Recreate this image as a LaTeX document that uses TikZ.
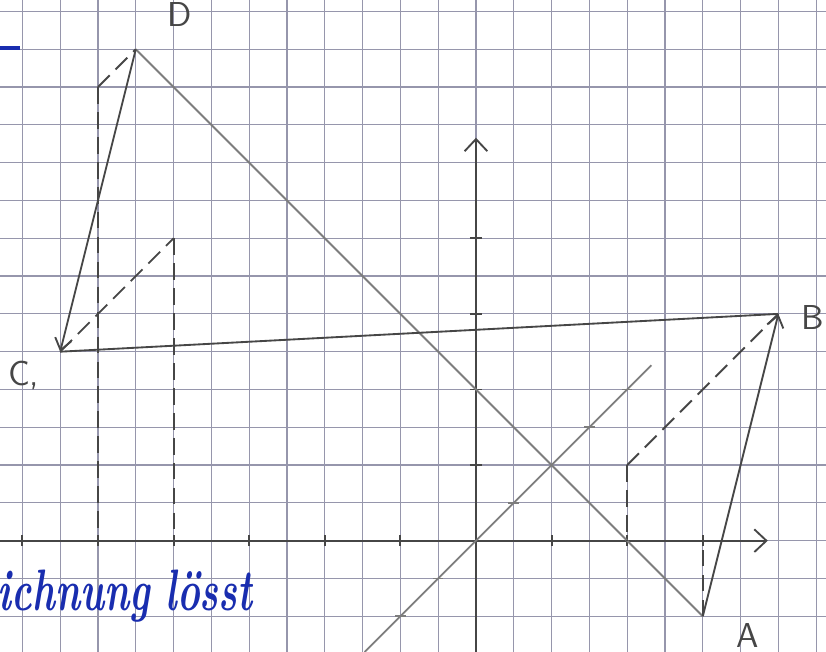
\documentclass[tikz,border=0pt]{standalone}
\usetikzlibrary{arrows.meta}
\definecolor{gridc}{RGB}{150,150,172}
\definecolor{pencil}{RGB}{70,70,70}
\definecolor{pencillight}{RGB}{125,125,125}
\definecolor{ink}{RGB}{25,45,175}
\begin{document}
\begin{tikzpicture}[x=1cm,y=1cm,
  gridline/.style={draw=gridc,line width=0.45pt},
  pen/.style={draw=pencil,line width=0.7pt},
  penlight/.style={draw=pencillight,line width=0.7pt},
  helper/.style={draw=pencil,line width=0.7pt,dash pattern=on 0.22cm off 0.11cm},
  tip/.style={-{Straight Barb[length=1.5mm,width=2.2mm]}},
  axistip/.style={-{Straight Barb[length=1.6mm,width=3mm]}},
  lbl/.style={font=\sffamily\fontsize{13}{13}\selectfont, text=pencil},
  tick/.style={draw=pencil,line width=0.7pt}]
\useasboundingbox (-6.296,-1.472) rectangle (4.630,7.152);
\fill[white] (-6.296,-1.472) rectangle (4.630,7.152);
% grid (half-unit squares)
\foreach \i in {-12,...,9} \draw[gridline] (\i*0.5,-1.472) -- (\i*0.5,7.152);
\foreach \j in {-2,...,14} \draw[gridline] (-6.296,\j*0.5) -- (4.630,\j*0.5);
% axes
\coordinate (xs) at (-6.296,0);
\coordinate (xe) at (3.86,0);
\coordinate (ys) at (0,-1.472);
\coordinate (ye) at (0,5.33);
\draw[pen,axistip] (xs) -- (xe);
\draw[pen,axistip] (ys) -- (ye);
\foreach \x in {-6,-5,-4,-3,-2,-1,1,2,3} \draw[tick] (\x,-0.07) -- (\x,0.07);
\foreach \y in {1,2,3,4} \draw[tick] (-0.08,\y) -- (0.08,\y);
% points
\coordinate (A) at (3,-1);
\coordinate (B) at (4,3);
\coordinate (C) at (-5.5,2.5);
\coordinate (D) at (-4.5,6.5);
\coordinate (P) at (2,1);
\coordinate (Q) at (-4,4);
\coordinate (R) at (-5,6);
\coordinate (Ax) at (3,0);
\coordinate (Px) at (2,0);
\coordinate (Qx) at (-4,0);
\coordinate (Rx) at (-5,0);
\coordinate (G1) at (-1.472,-1.472);
\coordinate (G2) at (2.32,2.32);
% lines
\draw[penlight] (D) -- (A);
\draw[penlight] (G1) -- (G2);
\foreach \t in {-1,-0.5,0.5,1.5,2} \draw[tick,draw=pencillight] (\t-0.07,\t) -- (\t+0.07,\t);
\draw[pen] (C) -- (B);
\draw[pen,tip] (A) -- (B);
\draw[pen,tip] (D) -- (C);
% helper dashed lines
\draw[helper] (R) -- (D);
\draw[helper] (R) -- (Rx);
\draw[helper] (C) -- (Q);
\draw[helper] (Q) -- (Qx);
\draw[helper] (P) -- (B);
\draw[helper] (P) -- (Px);
\draw[helper] (A) -- (Ax);
% labels
\node[lbl] (Dl) at (-3.915,6.954) {D};
\node[lbl] (Bl) at (4.45,2.946) {B};
\node[lbl] (Cl) at (-5.98,2.19) {C,};
\node[lbl] (Al) at (3.6,-1.25) {A};
% blue handwriting
\coordinate (bl1) at (-6.296,6.515);
\coordinate (bl2) at (-6.03,6.515);
\draw[ink,line width=1.5pt] (bl1) -- (bl2);
\node[anchor=base west,inner sep=0pt,text=ink,font=\bfseries\itshape\fontsize{22}{22}\selectfont] (txt) at (-6.33,-0.917) {\scalebox{0.66}[1]{ichnung lösst}};
\end{tikzpicture}
\end{document}
